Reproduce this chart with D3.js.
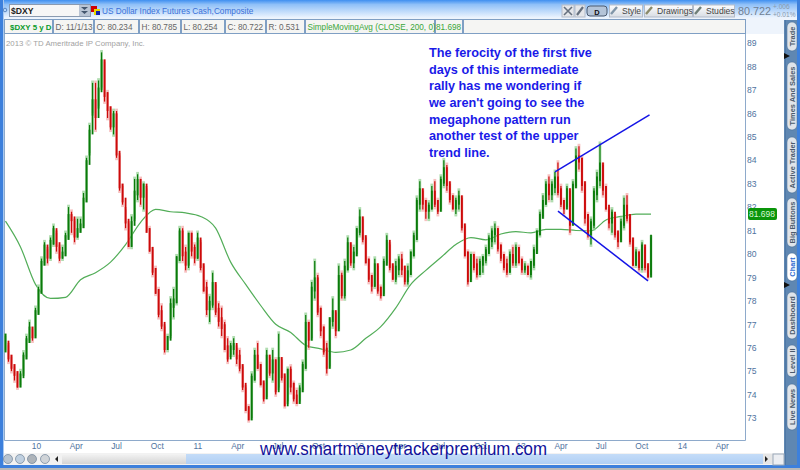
<!DOCTYPE html>
<html><head><meta charset="utf-8">
<script src="https://cdn.jsdelivr.net/npm/d3@7"></script>
<style>html,body{margin:0;padding:0;background:#fff}svg{display:block}text{font-family:"Liberation Sans",Arial,sans-serif}</style>
</head><body><svg id="c" width="800" height="470"></svg>
<script>
const highs=[76.6,76.2,75.7,75.3,75,75.1,75.9,76.6,77.2,76.9,
77.8,78.7,79.9,80.6,80.3,80.8,81.3,81,80.4,80.4,
81,82.1,81.9,81.5,81.6,81.6,82.7,84.2,85.6,87.4,
87.4,87.5,88.7,88.3,87,86.3,86.2,86.2,84.3,83,
82,81.4,81.7,83.3,83.5,83.3,83.1,82.9,81.2,80.3,
79.5,78.6,77.9,77,76.6,78.2,78.6,80,81.2,81.2,
80.4,81,81,80.5,81,80.6,79.6,78.9,78.3,79.3,
78.8,78,77.8,77.2,76.5,76.3,76.5,76.1,76,75.3,
74.4,73.6,75,76,76.3,75.4,74.6,76,75.7,76,
75.6,76.7,75.6,74.9,75.2,75.3,74.6,74.3,74.5,75.5,
77.5,77.2,78.9,79.8,79.2,77.8,77,76.3,77.3,78.2,
77.6,79.6,79.3,79.8,80.8,80.5,80.4,81.2,82,81.6,
80.8,79.9,79.2,79.9,79.6,78.7,79.9,80.9,80.5,79.6,
79.8,80,80.1,79.5,79.6,80.2,81,82.5,83.2,82.8,
82.4,82.3,83,83.2,82.4,83.4,84.1,83.9,83.1,82.6,
82.5,82.8,82.5,81.3,80.2,80.1,80.1,79.9,79.9,80,
80.4,80.9,81.2,81.4,81.2,80.5,80.1,79.9,80.2,80.4,
80.5,80.4,79.9,79.7,79.6,79.8,80.4,81.1,81.9,82.6,
83.2,83.4,83.2,83.6,84,83,82.4,83,82.8,83.2,
84.6,84.7,84.2,83.1,81.8,81.6,82.9,83.6,84.8,83.9,
83,82,82,81.7,81,81.6,82.5,82.6,81.7,80.7,
80.3,80.2,80.6,80.4,79.6,80.8];
const lows=[75.8,75.3,74.9,74.5,74.2,74.3,74.8,75.5,76.2,76.2,
76.4,77.4,78.3,79.5,79.5,79.7,80.3,80,79.6,79.7,
79.9,80.6,80.8,80.4,80.6,80.9,81.1,82.2,84.2,85.9,
85.2,86.2,87,86.4,85.7,85.2,85,84,82.6,82,
81,80.2,80.2,81.4,82.2,82,81.8,80.9,80,79,
78.2,77.2,76.7,75.7,75.8,76.4,77.2,77.8,79.6,79.6,
79.2,79.3,79.8,79.5,79.7,79.2,78.3,77.3,77,77.6,
77.3,76.8,76.4,75.8,75.3,75.6,75.6,75.2,74.9,74.1,
73.2,72.8,72.9,74.5,75,74.3,73.6,73.8,74.7,74.5,
73.9,74.2,74.5,73.4,73.6,74,73.6,73.5,73.6,74.1,
75,75.9,76.3,78,77.3,76.4,75.6,74.8,75.1,76.8,
76.4,76.7,78,78,79.2,79.4,79.3,79.9,80.7,80.4,
79.5,78.7,78.3,78.5,78.2,78,78.2,79.5,79.2,78.8,
78.7,79,79,78.6,78.6,79,79.8,80.5,81.8,81.8,
81.4,81.4,81.8,81.9,81.6,81.8,82.8,82.6,82.1,81.8,
81.6,81.8,80.9,79.8,78.6,78.8,79.2,78.9,79,79.1,
79.5,79.9,80.2,80.4,80,79.6,79.2,79,79.1,79.4,
79.4,79.5,79.1,79.1,79,78.9,79.3,80,80.7,81.5,
82,82.2,82.2,82.5,82.4,81.9,81.6,81.9,80.8,81.2,
82.8,83.5,82.6,81.2,80.6,80.3,81,82.2,82.8,82.4,
81.8,81,80.8,80.6,80.2,80.5,81,81.3,80.3,79.4,
79.4,79.2,79.2,79.2,78.9,79];
const closes=[76.2,75.6,75.2,74.9,74.4,74.8,75.6,76.3,76.8,76.5,
77.5,78.4,79.6,80.3,79.9,80.5,81,80.4,79.9,80,
80.7,81.6,81.5,80.8,81,81.2,82.3,83.9,85.2,86.5,
85.9,87,88.2,86.8,86.2,85.5,85.9,84.3,82.9,82.3,
81.4,80.4,81.3,82.6,83.1,82.5,82.9,81,80.2,79.3,
78.4,77.5,77,76,76.4,77.8,78,79.8,80.9,80,
79.6,80.8,80.2,79.9,80.6,79.5,78.5,77.7,77.9,78.7,
77.6,77.2,76.9,76,75.6,76,76.1,75.6,75.2,74.4,
73.4,73,74.7,75.6,75.2,74.5,73.9,75.6,75,75.4,
74.2,75.5,74.8,73.6,75,74.4,73.9,73.7,74.2,75.2,
77,76.4,78.5,78.9,77.6,76.8,75.9,75.2,77.2,77.5,
76.8,79,78.3,79.4,80.4,79.7,80,81,81.5,80.7,
79.7,79,78.7,79.5,78.5,78.3,79.6,80.5,79.5,79,
79.4,79.7,79.4,78.9,79.2,80,80.7,82.2,82.7,82.2,
81.9,82,82.6,82.2,81.9,83.1,83.6,83,82.4,82,
82.2,82.4,81.2,80,78.9,79.9,79.5,79.2,79.6,79.8,
80.1,80.6,80.9,81,80.3,79.9,79.5,79.3,79.9,79.7,
80.2,79.7,79.4,79.4,79.2,79.6,80.1,80.9,81.6,82.2,
82.9,82.6,82.9,83.2,82.7,82.2,82,82.7,81.3,82.9,
84.1,84,83,81.6,80.9,81.3,82.6,83.2,83.8,82.8,
82,81.4,81.7,80.9,80.6,81.3,82,81.6,80.6,79.6,
80,79.5,80.3,79.5,79.1,80.72];
// 200-day moving average, read at every fifth bar
const smaValues=[81.4,80.3,78.7,78.1,78.15,78.9,79.2,79.65,80.4,81.35,81.9,81.8,81.75,81.6,81.1,79.65,78.7,77.8,77,76.65,76.1,75.95,75.8,75.9,76.4,76.9,77.7,78.7,79.3,79.85,80.4,80.7,80.6,80.85,80.95,80.9,81.05,81.05,81,80.98,81.45,81.6,81.7,81.7];
const priceTicks=[89,88,87,86,85,84,83,82,81,80,79,78,77,76,75,74,73];
const timeTickDates=["2010-01-01","2010-04-01","2010-07-01","2010-10-01","2011-01-01","2011-04-01","2011-07-01","2011-10-01","2012-01-01","2012-04-01","2012-07-01","2012-10-01","2013-01-01","2013-04-01","2013-07-01","2013-10-01","2014-01-01","2014-04-01"];
const timeTickLabels=["10","Apr","Jul","Oct","11","Apr","Jul","Oct","12","Apr","Jul","Oct","13","Apr","Jul","Oct","14","Apr"];
const upperTrend=[[183,83.5],[214.5,85.93]];
const lowerTrend=[[184,81.83],[214,78.85]];
const note=["The ferocity of the first five","days of this intermediate","rally has me wondering if","we aren't going to see the","megaphone pattern run","another test of the upper","trend line."];
const infoCells=["$DXY 5 y D","D: 11/1/13","O: 80.234","H: 80.785","L: 80.254","C: 80.722","R: 0.531","SimpleMovingAvg (CLOSE, 200, 0)","81.698"];
const sideTabs=["Trade","Times And Sales","Active Trader","Big Buttons","Chart","Dashboard","Level II","Live News"];
const toolButtons=["Style","Drawings","Studies"];

const svg=d3.select("#c");
const defs=svg.append("defs");
function grad(id,stops){const g=defs.append("linearGradient").attr("id",id).attr("x1",0).attr("x2",0).attr("y1",0).attr("y2",1);
 stops.forEach(s=>g.append("stop").attr("offset",s[0]).attr("stop-color",s[1]));}
grad("head",[[0,"#3f8ff0"],[0.25,"#8fc0f8"],[1,"#eef5fe"]]);
grad("btn",[[0,"#fdfdfd"],[1,"#d8dde4"]]);
grad("scroll",[[0,"#f0f0f0"],[1,"#d4d4d4"]]);
grad("thumb",[[0,"#c4dcf8"],[1,"#b0cff4"]]);
const rect=(x,y,w,h,f,s)=>svg.append("rect").attr("x",x).attr("y",y).attr("width",w).attr("height",h).attr("fill",f).attr("stroke",s||"none");
const txt=(x,y,t,size,fill,a)=>svg.append("text").attr("x",x).attr("y",y).text(t).attr("font-size",size).attr("fill",fill).attr("text-anchor",a||"start");

// window
rect(0,0,800,470,"#fff");
rect(0,0,800,18,"url(#head)");
rect(0,18,800,16,"#eef4fc");
rect(0,0,3,468,"#3d80dc");
rect(3,0,1,468,"#a9c9f0");
rect(0,465,800,3,"#3d80dc");
rect(0,468,800,2,"#b9b9b9");
rect(797,0,3,468,"#3d80dc");
svg.append("circle").attr("cx",5).attr("cy",10).attr("r",1.8).attr("fill","none").attr("stroke","#5a86c0");
rect(9.5,4.5,81,12,"#f6f6f6","#8a9ab0");
txt(11,14,"$DXY",8.6,"#222").attr("font-weight","bold");
rect(79,5,11,11,"#b9c4d4");
svg.append("path").attr("d","M81 7h7l-3.5 3zM81 11h7l-3.5 3z").attr("fill","#44566e");
rect(91,6,6,6,"#d00000");rect(94,9,6,6,"#e8d800");rect(96,11,4,4,"#1020b0");
txt(102,14,"US Dollar Index Futures Cash,Composite",8.25,"#3a70d8");

// information row
const cellEdges=[4,53,94,139,181,225,266,305,435,463,746];
const cellColor=["#0a9a2a","#666","#666","#666","#666","#666","#666","#3aa63a","#3aa63a"];
infoCells.forEach((t,i)=>{
 rect(cellEdges[i]+.5,19.5,cellEdges[i+1]-cellEdges[i]-1,14,"#f5f5f3","#7f9fc4");
 const tx=txt(cellEdges[i]+(i==0?6:(i==8?1:2.5)),29.5,t,8.2,cellColor[i]);
 if(i==0)tx.attr("font-weight","bold").attr("font-size",7.9);
});
rect(463.5,19.5,282,14,"#f5f5f3","#7f9fc4");

// toolbar on the right
rect(562,5,12,12,"#e4e6ea","#b5bcc8");rect(575,5,10,12,"#e4e6ea","#b5bcc8");
svg.append("path").attr("d","M564 7l8 8M572 7l-8 8").attr("stroke","#66707e").attr("stroke-width",1.6);
svg.append("path").attr("d","M577 15l6-8").attr("stroke","#66707e").attr("stroke-width",2.2);
svg.append("rect").attr("x",587).attr("y",6).attr("width",20).attr("height",10).attr("rx",3).attr("fill","#b4c4d8").attr("stroke","#4a5a70");
txt(597,14.5,"D",7.5,"#111","middle").attr("font-weight","bold");
rect(609.5,5,33,12,"url(#btn)","#b5bcc8");rect(644.5,5,48,12,"url(#btn)","#b5bcc8");rect(693.5,5,41,12,"url(#btn)","#b5bcc8");
[622,657,706].forEach((x,i)=>txt(x,13.5,toolButtons[i],8.6,"#444"));
[[614,"#7f95a8"],[649,"#8a8a6a"],[698,"#6f7f78"]].forEach(d=>svg.append("path").attr("d",`M${d[0]-3} 14l6-7`).attr("stroke",d[1]).attr("stroke-width",2.4));

// plot frame
rect(4,34,742,406,"#fff");
svg.append("path").attr("d","M4.5 34V440.5H745.5V34").attr("fill","none").attr("stroke","#8eaacb");
txt(6,46,"2013 © TD Ameritrade IP Company, Inc.",7.8,"#a2a2a2");

// scales
const parse=d3.utcParse("%Y-%m-%d");
const x=d3.scaleUtc().domain([parse("2010-01-01"),parse("2014-01-01")]).range([32,678]);
const y=d3.scaleLinear().domain([89,73]).range([43,418]);
const firstBar=parse("2009-11-02"),lastBar=parse("2013-11-01");
const n=closes.length;
const barDate=i=>new Date(+firstBar+(lastBar-firstBar)*i/(n-1));
const barX=i=>x(barDate(i));

// moving average under the bars
const g=svg.append("g");
g.append("path").datum(smaValues).attr("fill","none").attr("stroke","#52ad58").attr("stroke-width",1.2)
 .attr("d",d3.line().x((d,i)=>barX(i*5)).y(d=>y(d)).curve(d3.curveMonotoneX));

// price bars
const bars=d3.range(n);
const isUp=i=>i==0?true:closes[i]>=closes[i-1];
g.selectAll("line.halo").data(bars).join("line").attr("class","halo")
 .attr("x1",barX).attr("x2",barX).attr("y1",i=>y(highs[i])).attr("y2",i=>y(lows[i]))
 .attr("stroke",i=>isUp(i)?"#8fcf8f":"#f4a8a8").attr("stroke-width",2.8).attr("opacity",.7);
g.selectAll("line.wick").data(bars).join("line").attr("class","wick")
 .attr("x1",barX).attr("x2",barX).attr("y1",i=>y(highs[i]-.1)).attr("y2",i=>y(lows[i]+.1))
 .attr("stroke",i=>isUp(i)?"#0a7a0a":"#cc0a0a").attr("stroke-width",1.2);
g.selectAll("line.bar").data(bars).join("line").attr("class","bar")
 .attr("x1",barX).attr("x2",barX)
 .attr("y1",i=>y(i==0?highs[i]:Math.max(closes[i],closes[i-1])+.1)).attr("y2",i=>y(i==0?lows[i]:Math.min(closes[i],closes[i-1])-.1))
 .attr("stroke",i=>isUp(i)?"#0a7a0a":"#cc0a0a").attr("stroke-width",1.8);

// trend lines
[upperTrend,lowerTrend].forEach(t=>{
 svg.append("path").datum(t).attr("fill","none").attr("stroke","#1414e6").attr("stroke-width",1.5)
  .attr("d",d3.line().x(d=>barX(d[0])).y(d=>y(d[1])));
});

// axes
const yAxis=d3.axisRight(y).tickValues(priceTicks).tickSize(0).tickPadding(0).tickFormat(d3.format("d"));
const ya=svg.append("g").attr("transform","translate(747,0)").call(yAxis);
ya.select(".domain").remove();
ya.selectAll("text").attr("font-size",8.6).attr("fill","#4f73a0").attr("font-family","Liberation Sans, Arial, sans-serif");
const tickDates=timeTickDates.map(parse);
const xAxis=d3.axisBottom(x).tickValues(tickDates).tickSize(0).tickPadding(0).tickFormat((d,i)=>timeTickLabels[i]);
const xa=svg.append("g").attr("transform","translate(4,443)").call(xAxis);
xa.select(".domain").remove();
xa.selectAll("text").attr("font-size",8.4).attr("fill","#4f73a0").attr("font-family","Liberation Sans, Arial, sans-serif");

// last value tag
svg.append("rect").attr("x",748).attr("y",208).attr("width",29).attr("height",12).attr("rx",2).attr("fill","#0a950a");
txt(749,217,infoCells[8],8.5,"#d8f5d8");

// side tabs
rect(784,20,13,445,"#5f87b2");
rect(785,20,1,445,"#4f78a6");
const tabSpans=[[22,51],[62,130],[137,193],[198,247],[253,281],[292,339],[345,377],[384,430]];
sideTabs.forEach((t,i)=>{
 const [a,b]=tabSpans[i],active=t=="Chart";
 svg.append("rect").attr("x",787).attr("y",a).attr("width",10).attr("height",b-a).attr("rx",5).attr("fill",active?"#fff":"#dfe4ea").attr("stroke","#3f668f").attr("stroke-width",.5);
 svg.append("text").attr("transform",`translate(794.8,${(a+b)/2}) rotate(-90)`).attr("text-anchor","middle")
  .attr("font-size",7.4).attr("font-weight","bold").attr("fill",active?"#2a6ad0":"#4a5a6a").text(t);
});
svg.append("path").attr("d","M784 53l6 3-6 3zM784 282l6 3-6 3z").attr("fill","#111");

// last price, drawn over the top of the tabs
txt(738,15,"80.722",10.8,"#6f8094");
txt(773,9,"+.006",6.6,"#8a9aac");
txt(773,17,"+0.01%",6.6,"#8a9aac");

// scroll bar and tools
rect(4,453,780,12,"#f2f2f2");
rect(62,455,124,9,"url(#scroll)");
rect(186,454,577,10,"url(#thumb)");
rect(763,454,10,10,"#e6e6e6");rect(773,454,11,11,"#eceef2","#9aa8b8");
svg.append("path").attr("d","M58 456v6l-3-3zM765 456v6l3-3z").attr("fill","#222");
[8,20,32,45].forEach((cx,i)=>{
 svg.append("circle").attr("cx",cx).attr("cy",459).attr("r",4.5).attr("fill",["#b8c4d0","#c0d0e0","#aeb4ba","#d0d4d8"][i]).attr("stroke","#6f8298").attr("stroke-width",.7);
});

// annotation
note.forEach((t,i)=>{
 txt(429,57+i*16.65,t,12.7,"#1a1ae8").attr("font-weight","bold");
});
txt(260,455,"www.smartmoneytrackerpremium.com",17.6,"#10109a").attr("textLength",287).attr("lengthAdjust","spacingAndGlyphs");
</script></body></html>
